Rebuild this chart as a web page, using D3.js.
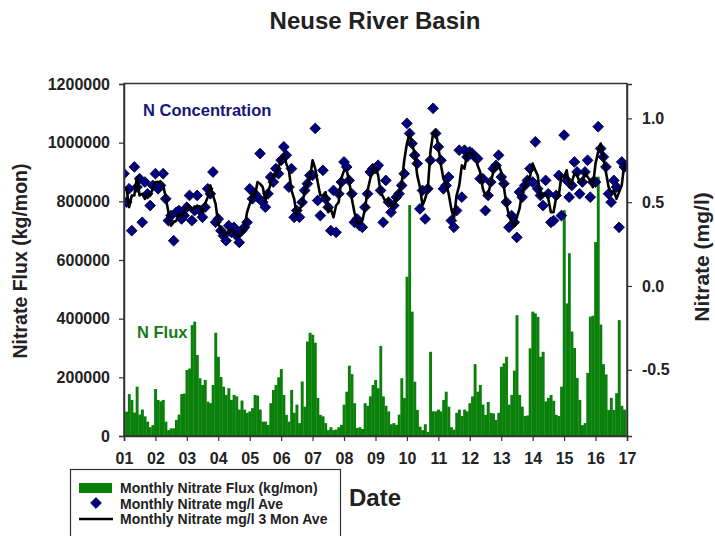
<!DOCTYPE html>
<html><head><meta charset="utf-8">
<script src="https://cdn.jsdelivr.net/npm/d3@7/dist/d3.min.js"></script>
<style>
body{margin:0;background:#fff;}
text{font-family:"Liberation Sans",Arial,Helvetica,sans-serif;font-weight:bold;}
</style>
</head><body>
<svg id="chart" width="715" height="536"></svg>
<script>
// ---- data ----
const startYear = 2001;
const yearTickLabels = ["01","02","03","04","05","06","07","08","09","10","11","12","13","14","15","16","17"];
const fluxTicks = [0,200000,400000,600000,800000,1000000,1200000];
const nitrateTicks = [-0.5,0.0,0.5,1.0];

// Monthly nitrate flux, thousands of kg/mon, Jan 2001 .. Dec 2016
const fluxThousandKg = [
 83, 83,143,123, 80,168, 73, 90, 67, 49, 30, 37,
160,123,118,123, 49, 20, 26, 26, 55, 73,143,145,
225,230,378,390,276,197,174,191,117,112,174,352,
270,201,168,140,163,123,140,135, 90,121, 90, 79,
 84, 95,140,138, 90, 49, 49, 38,112,157,174,200,
228,140, 72, 49,157, 79,107, 44,186,100,322,352,
345,318,130, 72, 67, 44, 20, 30, 20, 22, 30, 38,
107,151,240,211,112, 27, 30, 24,112,103,135,174,
191,163,307,135,103, 84, 40, 44, 38, 73,197,130,
543,787,424,185, 89, 32, 20, 40, 14,287, 84, 84,
 90, 84,123,151,100, 30, 22, 79, 90, 68, 90, 84,
112,135,245,151,174,107, 72,116, 79, 77, 55, 79,
236,248,270,107,140,223,412,140,100, 68, 70,299,
424,418,406,270,287,118,130,140,120, 72, 68,168,
770,452,623,356,300,198,123, 37, 44,215,407,410,
661,884,380,245,210, 89,130, 89,146,395,103, 90];

// Monthly nitrate mg/l average
const nitrateMonthly = [
0.67,0.50,0.58,0.33,0.71,0.59,0.64,0.38,0.62,0.55,0.48,0.60,
0.67,0.58,0.60,0.67,0.52,0.39,0.42,0.27,0.44,0.45,0.40,0.42,
0.47,0.54,0.39,0.45,0.54,0.45,0.41,0.47,0.58,0.55,0.68,0.38,
0.40,0.33,0.30,0.27,0.36,0.32,0.35,0.30,0.26,0.33,0.35,0.38,
0.58,0.52,0.55,0.53,0.79,0.50,0.47,0.55,0.65,0.62,0.70,0.67,
0.75,0.83,0.78,0.59,0.70,0.41,0.45,0.41,0.50,0.57,0.61,0.66,
0.66,0.94,0.51,0.42,0.69,0.52,0.47,0.33,0.57,0.32,0.55,0.62,
0.74,0.71,0.63,0.55,0.38,0.40,0.36,0.35,0.47,0.55,0.68,0.70,
0.70,0.72,0.57,0.38,0.63,0.50,0.44,0.48,0.53,0.55,0.60,0.67,
0.97,0.91,0.85,0.78,0.73,0.46,0.57,0.40,0.58,0.75,1.06,0.91,
0.83,0.75,0.58,0.60,0.65,0.39,0.35,0.45,0.81,0.53,0.81,0.77,
0.80,0.79,0.77,0.76,0.64,0.64,0.45,0.54,0.62,0.70,0.72,0.78,
0.65,0.61,0.50,0.35,0.42,0.38,0.29,0.56,0.53,0.60,0.63,0.70,
0.62,0.86,0.58,0.54,0.48,0.63,0.55,0.38,0.39,0.54,0.66,0.42,
0.90,0.63,0.53,0.60,0.74,0.68,0.55,0.62,0.68,0.75,0.53,0.62,
0.62,0.95,0.82,0.77,0.71,0.55,0.50,0.63,0.59,0.35,0.74,0.71];

// Monthly nitrate mg/l 3 month average
const nitrate3MonAve = [
0.59,0.58,0.47,0.54,0.54,0.65,0.54,0.55,0.52,0.55,0.54,0.58,
0.62,0.62,0.62,0.60,0.53,0.44,0.36,0.38,0.39,0.43,0.42,0.43,
0.48,0.47,0.46,0.46,0.48,0.47,0.44,0.49,0.53,0.60,0.54,0.49,
0.37,0.34,0.30,0.31,0.32,0.34,0.32,0.30,0.30,0.31,0.35,0.44,
0.49,0.55,0.53,0.62,0.61,0.59,0.51,0.56,0.61,0.66,0.66,0.71,
0.75,0.79,0.73,0.69,0.57,0.52,0.42,0.45,0.49,0.56,0.61,0.64,
0.75,0.70,0.62,0.54,0.54,0.56,0.44,0.46,0.41,0.48,0.50,0.64,
0.69,0.69,0.63,0.52,0.44,0.38,0.37,0.39,0.46,0.57,0.64,0.69,
0.71,0.66,0.56,0.53,0.50,0.52,0.47,0.48,0.52,0.56,0.61,0.75,
0.85,0.91,0.85,0.79,0.66,0.59,0.48,0.52,0.58,0.80,0.91,0.93,
0.83,0.72,0.64,0.61,0.55,0.46,0.40,0.54,0.60,0.72,0.70,0.79,
0.79,0.79,0.77,0.72,0.68,0.58,0.54,0.54,0.62,0.68,0.73,0.72,
0.68,0.59,0.49,0.42,0.38,0.36,0.41,0.46,0.56,0.59,0.64,0.65,
0.73,0.69,0.66,0.53,0.55,0.55,0.52,0.44,0.44,0.53,0.54,0.66,
0.65,0.69,0.59,0.62,0.67,0.66,0.62,0.62,0.68,0.65,0.63,0.59,
0.73,0.80,0.85,0.77,0.68,0.59,0.56,0.57,0.52,0.56,0.60,0.73];

const legendLabels = ["Monthly Nitrate Flux (kg/mon)","Monthly Nitrate mg/l Ave","Monthly Nitrate mg/l 3 Mon Ave"];

// ---- chart ----
const svg = d3.select("#chart");
const L = 124, R = 627, T = 84, B = 436;
const monthDate = i => new Date(startYear, i, 1);
const rows = fluxThousandKg.map((f, i) => ({
  date: monthDate(i), next: monthDate(i + 1), prev: monthDate(i - 1),
  flux: f * 1000, n: nitrateMonthly[i], n3: nitrate3MonAve[i]
}));

const x = d3.scaleTime().domain([new Date(2001,0,1), new Date(2017,0,1)]).range([L, R]);
const yL = d3.scaleLinear().domain([0, 1200000]).range([B, T]);
const yR = d3.scaleLinear().domain([-0.895, 1.205]).range([B, T]);

svg.append("defs").append("clipPath").attr("id","plotclip")
  .append("rect").attr("x", L).attr("y", T).attr("width", R - L).attr("height", B - T);

const plot = svg.append("g").attr("clip-path","url(#plotclip)");

// bars centred on each month
plot.append("g").selectAll("rect").data(rows).join("rect")
  .attr("x", d => (x(d.prev) + x(d.date)) / 2)
  .attr("width", d => (x(d.next) - x(d.prev)) / 2 + 0.3)
  .attr("y", d => yL(d.flux))
  .attr("height", d => yL(0) - yL(d.flux))
  .attr("fill", "#0a800a");

// diamonds
const diamond = d3.symbol().type(d3.symbolSquare).size(58);
plot.append("g").selectAll("path").data(rows).join("path")
  .attr("d", diamond)
  .attr("transform", d => `translate(${x(d.date)},${yR(d.n)}) rotate(45)`)
  .attr("fill", "#000080")
  .attr("stroke", "#00002a")
  .attr("stroke-width", 0.8);

// 3 month average line
plot.append("path").datum(rows)
  .attr("fill","none").attr("stroke","#000").attr("stroke-width",2.6)
  .attr("stroke-linejoin","round")
  .attr("d", d3.line().x(d => x(d.date)).y(d => yR(d.n3)));

// frame
svg.append("rect").attr("x", L).attr("y", T - 0.5).attr("width", R - L).attr("height", B - T + 0.5)
  .attr("fill","none").attr("stroke","#333").attr("stroke-width",1.5);

// axes
const axL = svg.append("g").attr("transform", `translate(${L},0)`)
  .call(d3.axisLeft(yL).tickValues(fluxTicks).tickFormat(d3.format("d")).tickSize(5).tickPadding(9));
const axR = svg.append("g").attr("transform", `translate(${R},0)`)
  .call(d3.axisRight(yR).tickValues(nitrateTicks).tickFormat(d => d.toFixed(1)).tickSize(5).tickPadding(10));
const yearDates = yearTickLabels.map((s, i) => new Date(startYear + i, 0, 1));
const axB = svg.append("g").attr("transform", `translate(0,${B})`)
  .call(d3.axisBottom(x).tickValues(yearDates).tickFormat((d, i) => yearTickLabels[i]).tickSize(5).tickPadding(12));
[axL, axR, axB].forEach(a => {
  a.select(".domain").attr("stroke","#333").attr("stroke-width",1.5);
  a.selectAll(".tick line").attr("stroke","#333").attr("stroke-width",1.2);
  a.selectAll(".tick text").attr("fill","#222").style("font-size","16px")
    .style("font-family",'"Liberation Sans",Arial,sans-serif').style("font-weight","bold");
});

// titles
svg.append("text").attr("x", 375).attr("y", 29).attr("text-anchor","middle")
  .style("font-size","24px").attr("fill","#222").text("Neuse River Basin");
svg.append("text").attr("transform","translate(27,261) rotate(-90)").attr("text-anchor","middle")
  .style("font-size","19.5px").attr("fill","#222").text("Nitrate Flux (kg/mon)");
svg.append("text").attr("transform","translate(709,257) rotate(-90)").attr("text-anchor","middle")
  .style("font-size","21px").attr("fill","#222").text("Nitrate (mg/l)");
svg.append("text").attr("x", 349).attr("y", 506)
  .style("font-size","24px").attr("fill","#222").text("Date");

// in-plot labels
svg.append("text").attr("x", 143).attr("y", 116).style("font-size","16.5px").attr("fill","#17177a").text("N Concentration");
svg.append("text").attr("x", 137).attr("y", 338).style("font-size","16.5px").attr("fill","#1a7a1a").text("N Flux");

// legend
const lg = svg.append("g");
lg.append("rect").attr("x", 70.5).attr("y", 469.5).attr("width", 270).attr("height", 80)
  .attr("fill","#fff").attr("stroke","#333").attr("stroke-width",1.2);
lg.append("rect").attr("x", 79).attr("y", 483).attr("width", 33).attr("height", 10).attr("fill","#0a800a");
lg.append("path").attr("d", d3.symbol().type(d3.symbolSquare).size(58)())
  .attr("transform","translate(96,503) rotate(45)").attr("fill","#000080").attr("stroke","#00002a").attr("stroke-width",0.8);
lg.append("line").attr("x1",79).attr("x2",113).attr("y1",519).attr("y2",519).attr("stroke","#000").attr("stroke-width",2.6);
legendLabels.forEach((t, i) => {
  lg.append("text").attr("x", 120).attr("y", 493 + i * 15.5).style("font-size","14px").attr("fill","#222").text(t);
});
</script>
</body></html>
